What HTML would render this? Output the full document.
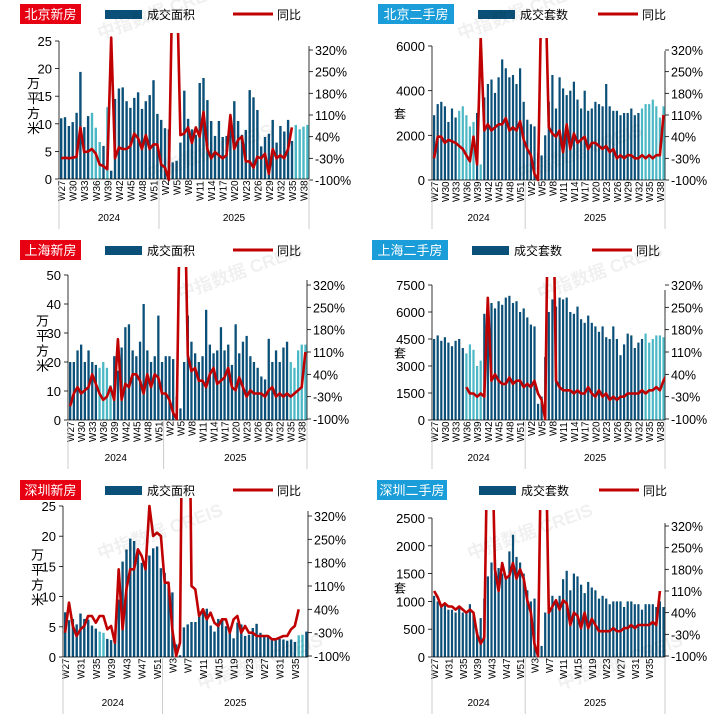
<!DOCTYPE html><html><head><meta charset="utf-8"><style>
body{margin:0;background:#fff;width:719px;height:719px;overflow:hidden;font-family:"Liberation Sans","Noto Sans CJK SC",sans-serif}
svg{display:block}
svg text{font-family:"Liberation Sans","Noto Sans CJK SC",sans-serif}
</style></head><body>
<svg id="s" width="719" height="719" xmlns="http://www.w3.org/2000/svg"></svg>
<script>
const S=document.getElementById('s');let h='';
const DK='#0b5078',LT='#4cb8c6',RD='#c00000';
function P(c){
 const {x0,x1,y0,y1,max,ticks,pct,bars,line,light,title,tx,ty,unit,wk,wy,id,lstart}=c;
 const n=bars.length,sw=(x1-x0)/n;
 h+=`<rect x="${tx}" y="${ty}" width="${c.tw}" height="20" fill="${c.tf}"/><text x="${tx+c.tw/2}" y="${ty+15}" font-size="13" fill="#fff" text-anchor="middle">${title}</text>`;
 const rx=tx+c.tw+c.rs;
 h+=`<rect x="${rx}" y="${ty+6}" width="37" height="9" fill="${DK}"/><text x="${rx+42}" y="${ty+15}" font-size="12">${c.lab}</text>`;
 const lx=tx+c.tw+c.ls;
 h+=`<line x1="${lx}" y1="${ty+10}" x2="${lx+40}" y2="${ty+10}" stroke="${RD}" stroke-width="3"/><text x="${lx+44}" y="${ty+15}" font-size="12">同比</text>`;
 h+=`<line x1="${x0}" y1="${y0}" x2="${x0}" y2="${y1}" stroke="#000" stroke-width="0.8"/><line x1="${x1}" y1="${y0+5}" x2="${x1}" y2="${y1}" stroke="#000" stroke-width="0.8"/>`;
 ticks.forEach(t=>{const y=y1-(t/max)*(y1-y0);h+=`<line x1="${x0-4}" x2="${x0}" y1="${y}" y2="${y}" stroke="#000" stroke-width="0.8"/><text x="${x0-7}" y="${y+5}" font-size="13" text-anchor="end">${t}</text>`});
 const pv=[320,250,180,110,40,-30,-100];
 const py=v=>pct[0]+(320-v)/420*(pct[1]-pct[0]);
 pv.forEach(v=>{const y=py(v);h+=`<line x1="${x1}" x2="${x1+4}" y1="${y}" y2="${y}" stroke="#000" stroke-width="0.8"/><text x="${x1+6}" y="${y+5}" font-size="12.5">${v}%</text>`});
 if(unit==='套')h+=`<text x="${x0-38}" y="${(y0+y1)/2+5}" font-size="12">套</text>`;
 else ['万','平','方','米'].forEach((ch,i)=>h+=`<text x="${x0-32}" y="${(y0+y1)/2-22+i*15}" font-size="13">${ch}</text>`);
 bars.forEach((v,i)=>{const bh=v/max*(y1-y0);const col=light.some(r=>i>=r[0]&&i<=r[1])?LT:DK;h+=`<rect x="${(x0+1+i*sw).toFixed(1)}" y="${(y1-bh).toFixed(1)}" width="${(sw*0.62).toFixed(1)}" height="${bh.toFixed(1)}" fill="${col}"/>`});
 h+=`<line x1="${x0}" x2="${x1}" y1="${y1}" y2="${y1}" stroke="#000" stroke-width="0.8"/>`;
 h+=`<clipPath id="c${id}"><rect x="${x0}" y="${y0-8}" width="${x1-x0}" height="${y1-y0+20}"/></clipPath>`;
 const ls=lstart||0;
 let d=line.map((v,i)=>`${i?'L':'M'}${(x0+1+(i+ls)*sw+sw*0.3).toFixed(1)},${py(v).toFixed(1)}`).join('');
 h+=`<path d="${d}" fill="none" stroke="${RD}" stroke-width="2.6" stroke-linejoin="round" clip-path="url(#c${id})"/>`;
 wk.forEach(([i,l])=>{const x=x0+1+i*sw+sw*0.3+4;h+=`<text transform="translate(${x},${y1+4+l.length*6}) rotate(-90)" font-size="10">${l}</text>`});
 const split=x0+26*sw;
 h+=`<line x1="${x0}" x2="${x0}" y1="${y1}" y2="${wy+8}" stroke="#ccc"/><line x1="${split}" x2="${split}" y1="${y1}" y2="${wy+8}" stroke="#ccc"/><line x1="${x1}" x2="${x1}" y1="${y1}" y2="${wy+8}" stroke="#ccc"/>`;
 h+=`<text x="${(x0+split)/2}" y="${wy}" font-size="10" text-anchor="middle">2024</text><text x="${(split+x1)/2}" y="${wy}" font-size="10" text-anchor="middle">2025</text>`;
}
const wA=[[0,'W27'],[3,'W30'],[6,'W33'],[9,'W36'],[12,'W39'],[15,'W42'],[18,'W45'],[21,'W48'],[24,'W51'],[27,'W2'],[30,'W5'],[33,'W8'],[36,'W11'],[39,'W14'],[42,'W17'],[45,'W20'],[48,'W23'],[51,'W26'],[54,'W29'],[57,'W32'],[60,'W35'],[63,'W38']];
const b1=[11,11.2,9.6,10.3,12,19.4,9.4,11.4,12,9.3,6.7,6,13,1.5,14.5,16.4,16.6,14.1,12.9,14.7,15.7,12.7,14.1,15.2,17.9,11.8,10.7,9.2,9,3,3.3,6.6,16,10.9,9,8,17.4,18.3,14.3,10.5,7.8,10.5,7.6,7.8,9.6,14.1,10.5,8,8.9,16.1,14.8,12.5,5.9,7.6,8.2,10.7,6.6,9.6,8.6,10.7,6.9,9.8,9,9.5,9.8];
const l1=[-30,-28,-30,-28,-25,70,-10,-8,0,-15,-50,-55,-65,360,-30,5,0,0,10,50,35,0,45,0,15,15,-50,-60,-100,600,600,45,50,70,20,70,40,120,0,-30,-10,-20,-30,-20,110,0,30,40,-40,-40,-60,-25,-30,-15,-80,0,-30,-20,-30,0,70];
P({id:1,x0:59,x1:309,y0:41,y1:179,max:25,ticks:[0,5,10,15,20,25],pct:[50,180],bars:b1,line:l1,light:[[8,10],[12,12],[61,64]],title:'北京新房',tx:20,ty:4,tw:61,tf:'#e60012',lab:'成交面积',rs:24,ls:152,unit:'m',wk:wA,wy:221});
const b2=[2900,3400,3500,3300,2600,3200,2800,3100,3300,2900,2400,2600,3000,700,3700,4300,4500,3900,4600,5400,5000,4600,4700,4300,5000,3500,2700,2500,2400,1200,1100,2000,3500,4700,3200,4600,4100,3800,4000,4400,3600,3200,4000,3100,3200,3500,3400,3300,4300,3300,3100,3100,2900,3000,3000,3200,2900,3000,3200,3400,3400,3600,3300,2800,3300];
const l2=[-30,40,40,20,30,25,20,10,0,-20,-40,40,-50,360,60,80,60,70,80,80,100,60,70,60,90,30,0,-20,-80,-100,550,550,70,50,40,60,-10,80,0,50,20,30,40,0,20,20,10,0,10,-10,0,-30,-20,-30,-20,-20,-30,-30,-20,-30,-20,-30,-20,-20,110];
P({id:2,x0:432,x1:665,y0:46,y1:180,max:6000,ticks:[0,2000,4000,6000],pct:[50,180],bars:b2,line:l2,light:[[7,11],[13,13],[58,64]],title:'北京二手房',tx:378,ty:4,tw:76,tf:'#1a9dd8',lab:'成交套数',rs:24,ls:144,unit:'套',wk:wA,wy:221});
const b3=[20,20,24,26,20,24,20,19,18,20,18,12,22,17,25,32,33,24,22,27,40,24,20,22,36,20,22,22,21,8,4,20,36,27,23,20,22,38,26,23,24,32,24,26,19,33,23,27,29,22,20,18,15,14,28,20,24,20,25,27,20,18,24,26,26];
const l3=[-60,-20,0,-20,-10,0,40,10,-20,-40,-30,0,-40,150,-40,10,0,40,40,20,-20,40,0,40,30,-20,-20,-40,-80,-100,700,700,100,50,60,20,20,0,40,60,10,20,30,60,0,-10,30,0,-30,-10,-20,-20,-20,-30,-10,0,-30,-20,-30,-20,-30,-20,-10,0,110];
P({id:3,x0:68,x1:307,y0:275,y1:420,max:50,ticks:[0,10,20,30,40,50],pct:[285,419],bars:b3,line:l3,light:[[8,11],[60,64]],title:'上海新房',tx:20,ty:240,tw:61,tf:'#e60012',lab:'成交面积',rs:24,ls:152,unit:'m',wk:wA,wy:461});
const b4=[4500,4700,4400,4600,4300,4100,4400,4500,4000,3700,4200,3900,3000,3300,5900,6700,6500,6200,6600,6400,6800,6900,6500,6600,6000,6200,5700,5300,5200,900,1300,3500,6000,6700,6300,6800,6700,6800,6000,5900,6300,5600,5400,5800,5400,5200,4900,5200,4600,4500,5200,4500,3600,4200,4800,4700,4000,4300,4500,4800,4300,4500,4700,4700,4600];
const l4b=[0,-20,-20,-30,-20,-30,280,20,40,20,10,10,30,10,20,20,0,10,0,20,-20,-40,-100,800,800,20,0,-10,-10,-10,-20,-10,-20,-20,0,-20,-30,-10,-30,-20,-40,-30,-40,-30,-30,-20,-20,-20,-20,-10,-20,-10,-10,0,-10,20,40];
P({id:4,x0:432,x1:665,y0:285,y1:420,max:7500,ticks:[0,1500,3000,4500,6000,7500],pct:[285,419],bars:b4,line:l4b,lstart:9,light:[[9,13],[59,64]],title:'上海二手房',tx:372,ty:240,tw:76,tf:'#1a9dd8',lab:'成交套数',rs:24,ls:144,unit:'套',wk:wA,wy:461});
const b5=[7.4,6.1,6.3,5.4,7.2,6.3,6.2,5.2,4.7,4.2,4,3,2.8,3.2,9.5,15.8,17.8,19.6,19.2,17.8,15.6,15.4,16.8,18,18.3,14.7,13.9,11.5,10.7,2.1,0.3,4.9,5.4,5.8,5.8,7.2,7.6,8,5.2,4.2,6.3,6.4,5.1,4.1,3.1,5.7,5.4,3.5,3.7,4.8,5.5,4,3.5,3.3,3,2.8,3,2.9,2.7,2.9,2.5,3.6,3.7,4.2];
const l5=[-30,60,-10,-40,-20,-10,20,20,0,20,20,-20,-10,-60,160,-20,100,160,160,220,200,160,350,260,270,260,120,120,-20,-100,-60,1200,1200,110,100,20,40,10,30,0,-10,10,10,-30,10,20,-30,-10,-30,-30,-40,-40,-40,-40,-50,-50,-45,-40,-40,-20,-10,40];
const wE=[[0,'W27'],[4,'W31'],[8,'W35'],[12,'W39'],[16,'W43'],[20,'W47'],[24,'W51'],[28,'W3'],[32,'W7'],[36,'W11'],[40,'W15'],[44,'W19'],[48,'W23'],[52,'W27'],[56,'W31'],[60,'W35']];
P({id:5,x0:63,x1:308,y0:506,y1:657,max:25,ticks:[0,5,10,15,20,25],pct:[516,656],bars:b5,line:l5,light:[[9,10],[61,62]],title:'深圳新房',tx:20,ty:480,tw:61,tf:'#e60012',lab:'成交面积',rs:24,ls:152,unit:'m',wk:wE,wy:706});
const b6=[1100,1000,900,950,850,850,800,900,800,800,950,780,450,700,1050,1450,1700,1750,1600,1500,1450,1900,2200,1800,1700,1500,1200,1000,1050,150,200,800,1000,1100,1000,1100,1400,1550,1200,1500,1450,1300,1150,1350,1250,1200,1050,1100,1050,950,1000,1000,1000,900,1000,1000,950,950,850,950,950,950,900,1000,900];
const l6=[110,90,60,70,60,60,50,60,50,40,50,40,-30,-60,-40,700,700,180,110,200,150,160,200,150,180,150,80,40,-60,-100,700,700,40,60,80,50,80,70,0,40,30,-10,40,-10,20,0,-20,-20,-20,-20,-10,-20,-20,-10,-10,0,-10,0,0,0,0,10,0,110];
P({id:6,x0:432,x1:665,y0:518,y1:657,max:2500,ticks:[0,500,1000,1500,2000,2500],pct:[526,656],bars:b6,line:l6,light:[],title:'深圳二手房',tx:377,ty:480,tw:70,tf:'#1a9dd8',lab:'成交套数',rs:32,ls:152,unit:'套',wk:wE,wy:706});
[[100,40],[460,40],[180,300],[540,300],[100,560],[470,560],[150,180],[520,180],[200,690],[560,690]].forEach(([x,y])=>h+=`<text x="${x}" y="${y}" font-size="18" font-weight="bold" fill="#000" fill-opacity="0.06" transform="rotate(-20 ${x} ${y})">中指数据 CREIS</text>`);
S.innerHTML=h;
</script></body></html>
